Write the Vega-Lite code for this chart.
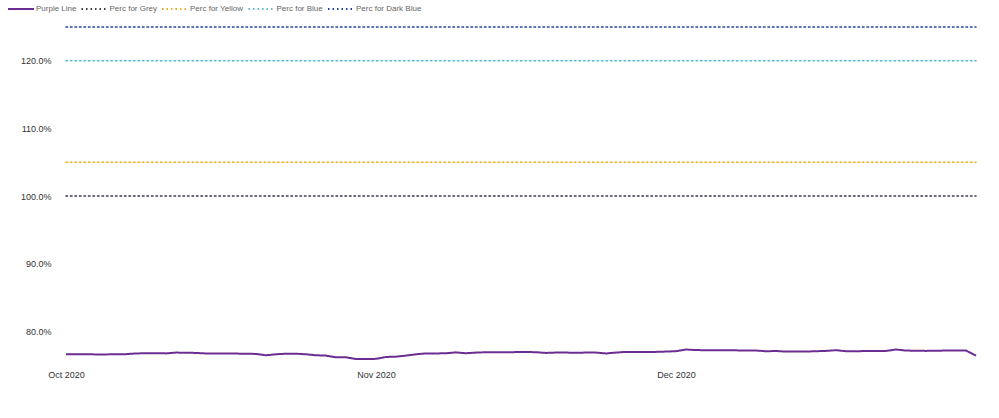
{
  "$schema": "https://vega.github.io/schema/vega-lite/v6.json",
  "autosize": {"type": "none"},
  "width": 910,
  "height": 332,
  "padding": {"left": 66, "top": 27, "right": 23, "bottom": 59},
  "background": "white",
  "config": {
    "view": {"stroke": null},
    "font": "Liberation Sans"
  },
  "datasets": {
    "purple": [
      {"date": "2020-10-01", "value": 0.7660}, {"date": "2020-10-02", "value": 0.7660}, {"date": "2020-10-03", "value": 0.7660},
      {"date": "2020-10-04", "value": 0.7658}, {"date": "2020-10-05", "value": 0.7658}, {"date": "2020-10-06", "value": 0.7660},
      {"date": "2020-10-07", "value": 0.7662}, {"date": "2020-10-08", "value": 0.7672}, {"date": "2020-10-09", "value": 0.7675},
      {"date": "2020-10-10", "value": 0.7675}, {"date": "2020-10-11", "value": 0.7673}, {"date": "2020-10-12", "value": 0.7685},
      {"date": "2020-10-13", "value": 0.7682}, {"date": "2020-10-14", "value": 0.7680}, {"date": "2020-10-15", "value": 0.7672},
      {"date": "2020-10-16", "value": 0.7672}, {"date": "2020-10-17", "value": 0.7670}, {"date": "2020-10-18", "value": 0.7670},
      {"date": "2020-10-19", "value": 0.7668}, {"date": "2020-10-20", "value": 0.7665}, {"date": "2020-10-21", "value": 0.7645},
      {"date": "2020-10-22", "value": 0.7660}, {"date": "2020-10-23", "value": 0.7668}, {"date": "2020-10-24", "value": 0.7668},
      {"date": "2020-10-25", "value": 0.7660}, {"date": "2020-10-26", "value": 0.7645}, {"date": "2020-10-27", "value": 0.7640},
      {"date": "2020-10-28", "value": 0.7615}, {"date": "2020-10-29", "value": 0.7615}, {"date": "2020-10-30", "value": 0.7590},
      {"date": "2020-10-31", "value": 0.7590},
      {"date": "2020-11-01", "value": 0.7592}, {"date": "2020-11-02", "value": 0.7620}, {"date": "2020-11-03", "value": 0.7625},
      {"date": "2020-11-04", "value": 0.7640}, {"date": "2020-11-05", "value": 0.7660}, {"date": "2020-11-06", "value": 0.7672},
      {"date": "2020-11-07", "value": 0.7672}, {"date": "2020-11-08", "value": 0.7675}, {"date": "2020-11-09", "value": 0.7688},
      {"date": "2020-11-10", "value": 0.7675}, {"date": "2020-11-11", "value": 0.7685}, {"date": "2020-11-12", "value": 0.7690},
      {"date": "2020-11-13", "value": 0.7690}, {"date": "2020-11-14", "value": 0.7690}, {"date": "2020-11-15", "value": 0.7692},
      {"date": "2020-11-16", "value": 0.7695}, {"date": "2020-11-17", "value": 0.7690}, {"date": "2020-11-18", "value": 0.7680},
      {"date": "2020-11-19", "value": 0.7685}, {"date": "2020-11-20", "value": 0.7685}, {"date": "2020-11-21", "value": 0.7682},
      {"date": "2020-11-22", "value": 0.7685}, {"date": "2020-11-23", "value": 0.7685}, {"date": "2020-11-24", "value": 0.7672},
      {"date": "2020-11-25", "value": 0.7685}, {"date": "2020-11-26", "value": 0.7695}, {"date": "2020-11-27", "value": 0.7695},
      {"date": "2020-11-28", "value": 0.7695}, {"date": "2020-11-29", "value": 0.7695}, {"date": "2020-11-30", "value": 0.7700},
      {"date": "2020-12-01", "value": 0.7705}, {"date": "2020-12-02", "value": 0.7730}, {"date": "2020-12-03", "value": 0.7722},
      {"date": "2020-12-04", "value": 0.7720}, {"date": "2020-12-05", "value": 0.7718}, {"date": "2020-12-06", "value": 0.7718},
      {"date": "2020-12-07", "value": 0.7718}, {"date": "2020-12-08", "value": 0.7715}, {"date": "2020-12-09", "value": 0.7715},
      {"date": "2020-12-10", "value": 0.7705}, {"date": "2020-12-11", "value": 0.7708}, {"date": "2020-12-12", "value": 0.7700},
      {"date": "2020-12-13", "value": 0.7700}, {"date": "2020-12-14", "value": 0.7700}, {"date": "2020-12-15", "value": 0.7705},
      {"date": "2020-12-16", "value": 0.7710}, {"date": "2020-12-17", "value": 0.7720}, {"date": "2020-12-18", "value": 0.7705},
      {"date": "2020-12-19", "value": 0.7705}, {"date": "2020-12-20", "value": 0.7708}, {"date": "2020-12-21", "value": 0.7710},
      {"date": "2020-12-22", "value": 0.7710}, {"date": "2020-12-23", "value": 0.7730}, {"date": "2020-12-24", "value": 0.7715},
      {"date": "2020-12-25", "value": 0.7712}, {"date": "2020-12-26", "value": 0.7710}, {"date": "2020-12-27", "value": 0.7712},
      {"date": "2020-12-28", "value": 0.7715}, {"date": "2020-12-29", "value": 0.7715}, {"date": "2020-12-30", "value": 0.7715},
      {"date": "2020-12-31", "value": 0.7640}
    ],
    "refs": [
      {"date": "2020-10-01", "series": "Perc for Grey", "value": 1.00},
      {"date": "2020-12-31", "series": "Perc for Grey", "value": 1.00},
      {"date": "2020-10-01", "series": "Perc for Yellow", "value": 1.05},
      {"date": "2020-12-31", "series": "Perc for Yellow", "value": 1.05},
      {"date": "2020-10-01", "series": "Perc for Blue", "value": 1.20},
      {"date": "2020-12-31", "series": "Perc for Blue", "value": 1.20},
      {"date": "2020-10-01", "series": "Perc for Dark Blue", "value": 1.25},
      {"date": "2020-12-31", "series": "Perc for Dark Blue", "value": 1.25}
    ]
  },
  "layer": [
    {
      "data": {"name": "refs"},
      "mark": {"type": "line", "strokeWidth": 1.6, "strokeCap": "round"},
      "encoding": {
        "x": {"field": "date", "type": "temporal"},
        "y": {"field": "value", "type": "quantitative"},
        "detail": {"field": "series"},
        "color": {"field": "series"},
        "strokeDash": {"field": "series"}
      }
    },
    {
      "data": {"name": "purple"},
      "transform": [{"calculate": "'Purple Line'", "as": "series"}],
      "mark": {"type": "line", "strokeWidth": 2, "interpolate": "linear"},
      "encoding": {
        "x": {"field": "date", "type": "temporal"},
        "y": {"field": "value", "type": "quantitative"},
        "color": {"field": "series"},
        "strokeDash": {"field": "series"}
      }
    }
  ],
  "encoding": {
    "x": {
      "field": "date", "type": "temporal",
      "scale": {"domain": ["2020-10-01T00:00:00", "2020-12-31T00:00:00"], "nice": false},
      "axis": {
        "title": null, "format": "%b %Y", "grid": false, "domain": false, "ticks": false,
        "values": ["2020-10-01T00:00:00", "2020-11-01T00:00:00", "2020-12-01T00:00:00"],
        "labelFontSize": 9, "labelColor": "#333333", "labelPadding": 11, "labelFlush": false
      }
    },
    "y": {
      "field": "value", "type": "quantitative",
      "scale": {"domain": [0.759, 1.25], "nice": false, "zero": false},
      "axis": {
        "title": null, "format": ".1%", "grid": false, "domain": false, "ticks": false,
        "values": [0.8, 0.9, 1.0, 1.1, 1.2],
        "labelFontSize": 9, "labelColor": "#333333", "labelPadding": 15
      }
    },
    "color": {
      "field": "series", "type": "nominal",
      "scale": {
        "domain": ["Purple Line", "Perc for Grey", "Perc for Yellow", "Perc for Blue", "Perc for Dark Blue"],
        "range": ["#6B2D91", "#3A3A48", "#E8B21E", "#5CB8D0", "#2341A0"]
      },
      "legend": {
        "title": null, "orient": "none", "direction": "horizontal",
        "legendX": -59, "legendY": -32,
        "symbolType": "stroke", "symbolSize": 676, "symbolStrokeWidth": 1.8,
        "labelFontSize": 8, "labelColor": "#666666", "labelOffset": 1,
        "columnPadding": 0.5, "symbolDash": [1.5, 3]
      }
    },
    "strokeDash": {
      "field": "series", "type": "nominal",
      "scale": {
        "domain": ["Purple Line", "Perc for Grey", "Perc for Yellow", "Perc for Blue", "Perc for Dark Blue"],
        "range": [[1, 0], [1.5, 3], [1.5, 3], [1.5, 3], [1.5, 3]]
      },
      "legend": null
    }
  }
}
